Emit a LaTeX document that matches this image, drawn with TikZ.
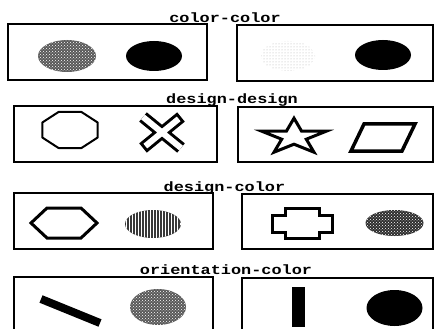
\documentclass[tikz,border=0pt]{standalone}
\usepackage{graphicx}
\usepackage{fontspec}
\setmonofont{Liberation Mono}
\usetikzlibrary{patterns}
\begin{document}
\begin{tikzpicture}[x=1pt,y=-1pt,
  panel/.style={draw=black,line width=1.2pt},
  ttl/.style={anchor=base,inner sep=0pt,font=\ttfamily\bfseries\fontsize{13.5}{15}\selectfont},
  outl/.style={draw=black,line width=3pt,line join=miter},
  thinoutl/.style={draw=black,line width=2pt,line join=round}]
\useasboundingbox (0,0) rectangle (437,329);
\clip (0,0) rectangle (437,329);
\fill[white] (0,0) rectangle (437,329);
% titles
\node[ttl] (t1) at (225,23) {\scalebox{1.25}[1]{color-color}};
\node[ttl] (t2) at (232,104) {\scalebox{1.25}[1]{design-design}};
\node[ttl] (t3) at (224.5,191) {\scalebox{1.25}[1]{design-color}};
\node[ttl] (t4) at (226,274) {\scalebox{1.25}[1]{orientation-color}};
% panels
\draw[panel] (8,24) rectangle (207,80);
\draw[panel] (237,25) rectangle (433,81);
\draw[panel] (14,106) rectangle (217,162);
\draw[panel] (238,107) rectangle (433,162);
\draw[panel] (14,193) rectangle (213,249);
\draw[panel] (242,194) rectangle (433,249);
\draw[panel] (14,277) rectangle (213,340);
\draw[panel] (242,278) rectangle (433,340);
% row 1
\fill[black!65] (67,56) ellipse [x radius=29, y radius=16];
\fill[pattern=crosshatch dots, pattern color=white] (67,56) ellipse [x radius=29, y radius=16];
\fill[black] (154,56) ellipse [x radius=28, y radius=15];
\fill[pattern=dots, pattern color=black!30] (288,56) ellipse [x radius=27, y radius=15];
\fill[black] (383,55) ellipse [x radius=28, y radius=15];
% row 2
\draw[thinoutl] (97.7,122.5) -- (81.5,112) -- (58.5,112) -- (42.3,122.5) -- (42.3,137.5) -- (58.5,148) -- (81.5,148) -- (97.7,137.5) -- cycle;
\draw[line width=12pt] (143,117) -- (181,148) (143,148) -- (181,117);
\draw[white,line width=6pt,shorten >=3pt,shorten <=3pt] (143,117) -- (181,148) (143,148) -- (181,117);
\draw[outl] (294,118.2) -- (301.6,131.2) -- (326.3,131.2) -- (306.3,139.2) -- (314,152.2) -- (294,144.2) -- (274,152.2) -- (281.7,139.2) -- (261.7,131.2) -- (286.4,131.2) -- cycle;
\draw[outl,line width=3.5pt] (364,124) -- (415,124) -- (402,151) -- (351,151) -- cycle;
% row 3
\draw[outl] (31,223) -- (47,208) -- (81,208) -- (97,223) -- (81,238) -- (47,238) -- cycle;
\fill[black!78] (153,224) ellipse [x radius=28, y radius=14];
\fill[pattern=vertical lines, pattern color=white] (153,224) ellipse [x radius=28, y radius=14];
\draw[outl] (285,208) -- (319,208) -- (319,215) -- (332,215) -- (332,232) -- (319,232) -- (319,238) -- (285,238) -- (285,232) -- (272,232) -- (272,215) -- (285,215) -- cycle;
\fill[black!82] (394.5,223) ellipse [x radius=29, y radius=13];
\fill[pattern=crosshatch dots, pattern color=white] (394.5,223) ellipse [x radius=29, y radius=13];
% row 4
\draw[line width=8pt] (41,299) -- (100,323);
\fill[black!65] (158,307) ellipse [x radius=28, y radius=18];
\fill[pattern=crosshatch dots, pattern color=white] (158,307) ellipse [x radius=28, y radius=18];
\fill[black] (292,287) rectangle (305,327);
\fill[black] (394.5,308) ellipse [x radius=28, y radius=18];
\end{tikzpicture}
\end{document}
